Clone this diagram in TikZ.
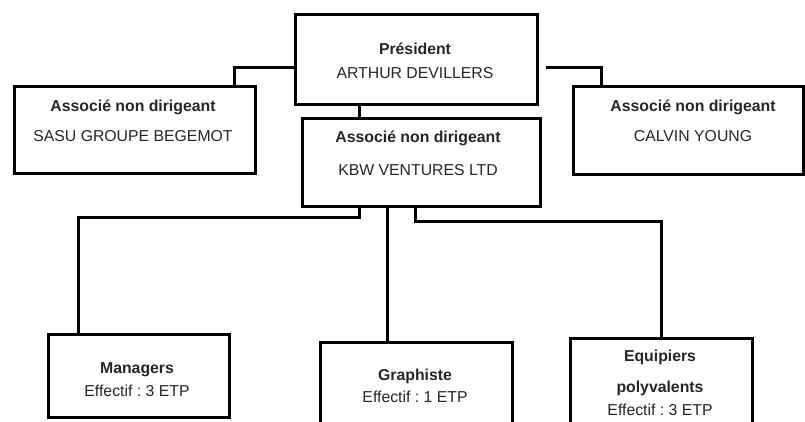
\documentclass[tikz,border=0pt]{standalone}
\usepackage{fontspec}
\setmainfont{Liberation Sans}
\frenchspacing
\usetikzlibrary{positioning,calc}
\tikzset{
	orga/.style={x=1pt,y=-1pt,line width=3pt,line join=miter},
	unit/.style={rectangle,draw,line width=3pt,fill=white},
	tag/.style={align=center,text=black!85,font=\fontsize{15.8}{18}\selectfont},
	link/.style={line width=3pt,line cap=butt}
}

\begin{document}
\begin{tikzpicture}[orga]
	\useasboundingbox (0,0) rectangle (805,421);
	
	% boxes
	\node[unit, minimum width=242pt, minimum height=90pt] (pres) at (416,59) {};
	\node[unit, minimum width=241pt, minimum height=87pt] (sasu) at (134.5,129.5) {};
	\node[unit, minimum width=238pt, minimum height=88pt] (kbw) at (421,162) {};
	\node[unit, minimum width=230pt, minimum height=88pt] (calvin) at (688,130) {};
	\node[unit, minimum width=181pt, minimum height=83pt] (mgr) at (138.5,375.5) {};
	\node[unit, minimum width=192pt, minimum height=88pt] (graph) at (416,386) {};
	\node[unit, minimum width=182pt, minimum height=92pt] (equip) at (661,384) {};
	
	% texts
	\node[tag] (pres-t) at (415,61) {\textbf{Président}\\[6pt]ARTHUR DEVILLERS};
	\node[tag] (sasu-t) at (133,121) {\textbf{Associé non dirigeant}\\[12pt]SASU GROUPE BEGEMOT};
	\node[tag] (kbw-t) at (418,153.5) {\textbf{Associé non dirigeant}\\[15pt]KBW VENTURES LTD};
	\node[tag] (calvin-t) at (693,121) {\textbf{Associé non dirigeant}\\[12pt]CALVIN YOUNG};
	\node[tag] (mgr-t) at (137,379.5) {\textbf{Managers}\\[5pt]Effectif : 3 ETP};
	\node[tag] (graph-t) at (415,386) {\textbf{Graphiste}\\[4pt]Effectif : 1 ETP};
	\node[tag] (equip-t) at (660,383) {\textbf{Equipiers}\\[13pt]\textbf{polyvalents}\\[5pt]Effectif : 3 ETP};
	
	% connectors
	\draw[link] (pres.west |- 0,67) -| ([xshift=-22pt]sasu.north east);
	\draw[link] ([xshift=7pt]pres.east |- 0,67) -| ([xshift=30pt]calvin.north west);
	\draw[link] (pres.south -| 359,0) -- (kbw.north -| 359,0);
	\draw[link] (kbw.south -| 359,0) -- (359,217) -| ($(mgr.north west)+(32,0)$);
	\draw[link] (kbw.south -| 387,0) -- (graph.north -| 387,0);
	\draw[link] (kbw.south -| 415,0) -- (415,221) -| (equip.north);
\end{tikzpicture}
\end{document}
